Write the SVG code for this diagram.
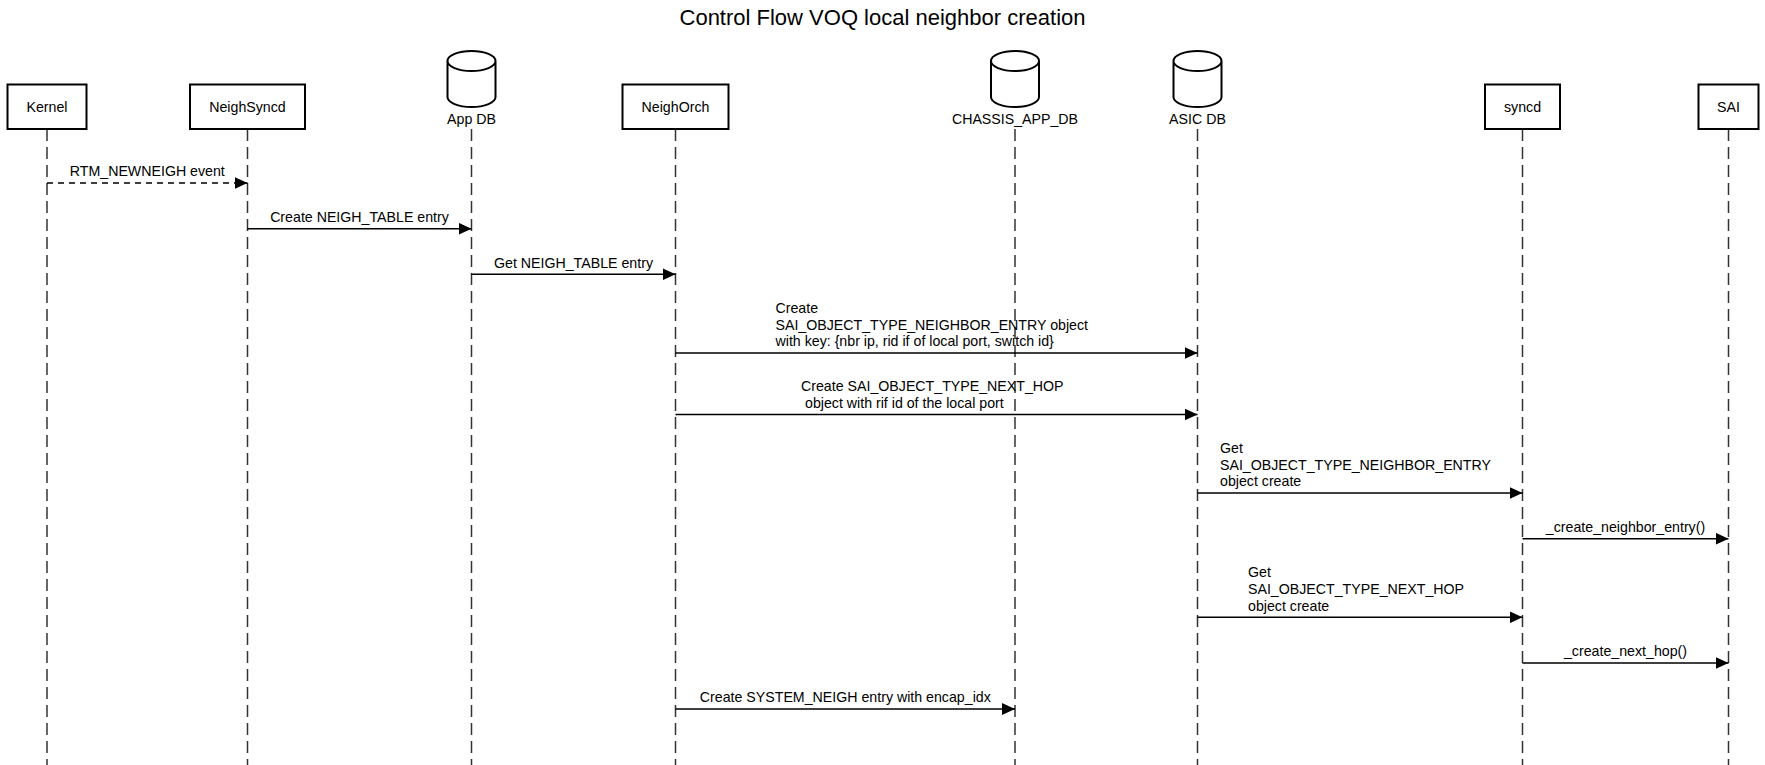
<svg xmlns="http://www.w3.org/2000/svg" xmlns:xlink="http://www.w3.org/1999/xlink" width="1765" height="765" viewBox="0 0 1765 765">
<style>
text{font-family:"Liberation Sans",Arial,sans-serif;font-size:14.2px;fill:#000}
.title{font-size:22px}
.mid{text-anchor:middle}
.box{fill:#fff;stroke:#000;stroke-width:2}
.cyl{fill:#fff;stroke:#000;stroke-width:2}
.life{stroke:#333;stroke-width:1.5;stroke-dasharray:12 6;fill:none}
.msg{stroke:#000;stroke-width:1.4;fill:none;marker-end:url(#ah)}
.dash{stroke-dasharray:6 5}
</style>
<defs>
<marker id="ah" viewBox="0 0 13 12" refX="13" refY="6" markerWidth="13" markerHeight="12" markerUnits="userSpaceOnUse" orient="auto">
<path d="M0,0 L13,6 L0,12 Z" fill="#000"/>
</marker>
<path id="cyl" d="M-24,10 L-24,46 A24,10 0 0,0 24,46 L24,10 A24,10 0 0,0 -24,10 Z M-24,10 A24,10 0 0,0 24,10"/>
</defs>
<rect width="1765" height="765" fill="#fff"/>
<text class="title mid" x="882.5" y="25">Control Flow VOQ local neighbor creation</text>

<g id="lifelines">
<line class="life" x1="47" y1="129" x2="47" y2="765"/>
<line class="life" x1="247.5" y1="129" x2="247.5" y2="765"/>
<line class="life" x1="471.5" y1="129" x2="471.5" y2="765"/>
<line class="life" x1="675.5" y1="129" x2="675.5" y2="765"/>
<line class="life" x1="1015" y1="129" x2="1015" y2="765"/>
<line class="life" x1="1197.5" y1="129" x2="1197.5" y2="765"/>
<line class="life" x1="1522.5" y1="129" x2="1522.5" y2="765"/>
<line class="life" x1="1728.5" y1="129" x2="1728.5" y2="765"/>
</g>

<g id="kernel"><rect class="box" x="7.5" y="84.5" width="79" height="44.5"/><text class="mid" x="47" y="112">Kernel</text></g>
<g id="neighsyncd"><rect class="box" x="190" y="84.5" width="115" height="44.5"/><text class="mid" x="247.5" y="112">NeighSyncd</text></g>
<g id="appdb"><use xlink:href="#cyl" class="cyl" transform="translate(471.5,51)"/><text class="mid" x="471.5" y="124">App DB</text></g>
<g id="neighorch"><rect class="box" x="622.5" y="84.5" width="106" height="44.5"/><text class="mid" x="675.5" y="112">NeighOrch</text></g>
<g id="chassisappdb"><use xlink:href="#cyl" class="cyl" transform="translate(1015,51)"/><text class="mid" x="1015" y="124">CHASSIS_APP_DB</text></g>
<g id="asicdb"><use xlink:href="#cyl" class="cyl" transform="translate(1197.5,51)"/><text class="mid" x="1197.5" y="124">ASIC DB</text></g>
<g id="syncd"><rect class="box" x="1485" y="84.5" width="75" height="44.5"/><text class="mid" x="1522.5" y="112">syncd</text></g>
<g id="sai"><rect class="box" x="1698.5" y="84.5" width="60" height="44.5"/><text class="mid" x="1728.5" y="112">SAI</text></g>

<g id="connectors">
<line class="msg dash" x1="47" y1="183" x2="247.5" y2="183"/>
<text class="mid" x="147.3" y="176.3">RTM_NEWNEIGH event</text>

<line class="msg" x1="247.5" y1="228.7" x2="471.5" y2="228.7"/>
<text class="mid" x="359.5" y="222">Create NEIGH_TABLE entry</text>

<line class="msg" x1="471.5" y1="274.3" x2="675.5" y2="274.3"/>
<text class="mid" x="573.5" y="267.6">Get NEIGH_TABLE entry</text>

<line class="msg" x1="675.5" y1="353" x2="1197.5" y2="353"/>
<text x="775.5" y="312.9">Create</text>
<text x="775.5" y="329.6">SAI_OBJECT_TYPE_NEIGHBOR_ENTRY object</text>
<text x="775.5" y="346.3">with key: {nbr ip, rid if of local port, switch id}</text>

<line class="msg" x1="675.5" y1="414.5" x2="1197.5" y2="414.5"/>
<text x="801" y="391.1">Create SAI_OBJECT_TYPE_NEXT_HOP</text>
<text x="805" y="407.8">object with rif id of the local port</text>

<line class="msg" x1="1197.5" y1="493" x2="1522.5" y2="493"/>
<text x="1220" y="452.9">Get</text>
<text x="1220" y="469.6">SAI_OBJECT_TYPE_NEIGHBOR_ENTRY</text>
<text x="1220" y="486.3">object create</text>

<line class="msg" x1="1522.5" y1="538.7" x2="1728.5" y2="538.7"/>
<text class="mid" x="1625.5" y="532">_create_neighbor_entry()</text>

<line class="msg" x1="1197.5" y1="617.3" x2="1522.5" y2="617.3"/>
<text x="1248" y="577.2">Get</text>
<text x="1248" y="593.9">SAI_OBJECT_TYPE_NEXT_HOP</text>
<text x="1248" y="610.6">object create</text>

<line class="msg" x1="1522.5" y1="663" x2="1728.5" y2="663"/>
<text class="mid" x="1625.5" y="656.3">_create_next_hop()</text>

<line class="msg" x1="675.5" y1="709" x2="1015" y2="709"/>
<text class="mid" x="845.3" y="702.3">Create SYSTEM_NEIGH entry with encap_idx</text>
</g>
</svg>
